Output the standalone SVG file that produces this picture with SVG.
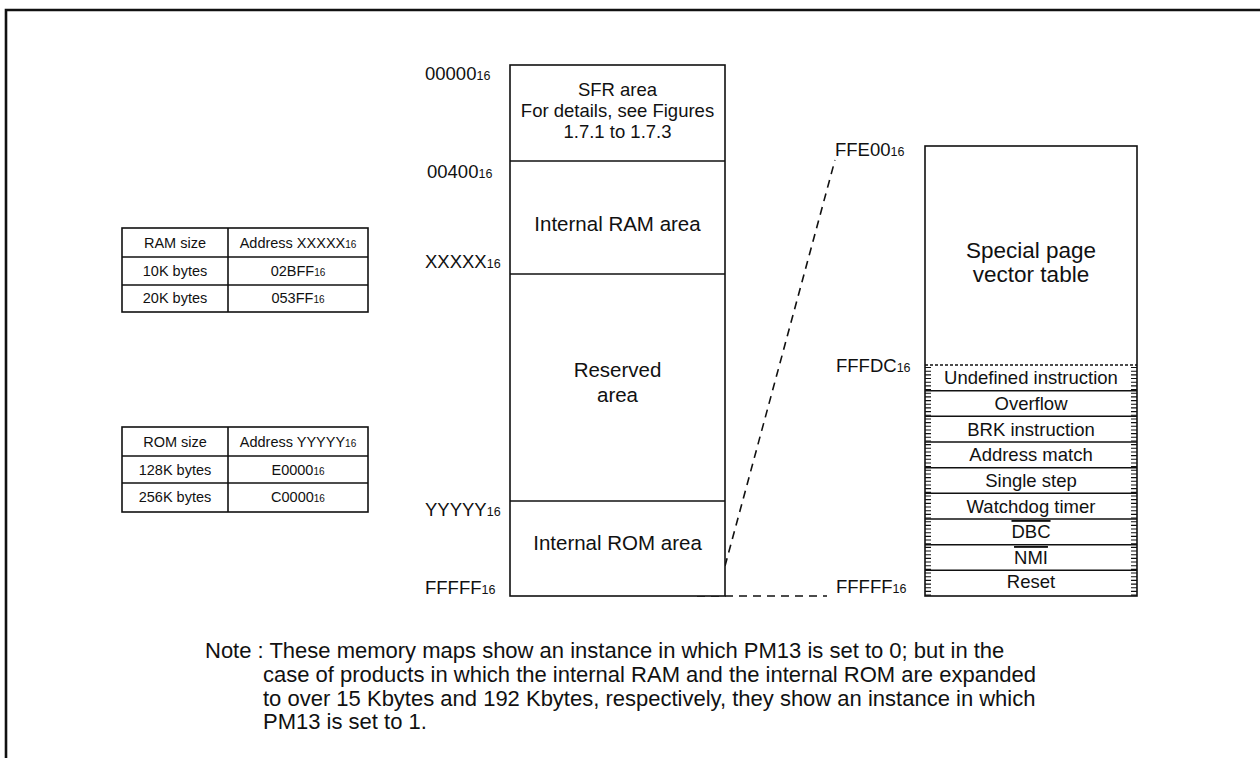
<svg xmlns="http://www.w3.org/2000/svg" width="1260" height="758" viewBox="0 0 1260 758">
<style>
text{font-family:"Liberation Sans",Arial,sans-serif;fill:#111}
.lbl{font-size:18.5px}
.sub{font-size:12.5px}
.tb{font-size:14.5px;text-anchor:middle}
.tsub{font-size:10px}
.area{font-size:20.5px;text-anchor:middle}
.sfr{font-size:18.5px;text-anchor:middle}
.vec{font-size:18.5px;text-anchor:middle}
.note{font-size:22px}
.box{fill:#fff;stroke:#111;stroke-width:1.6}
.ln{stroke:#111;stroke-width:1.6;fill:none}
.dash{stroke:#111;stroke-width:1.6;fill:none;stroke-dasharray:8 6}
.tick{stroke:#111;stroke-width:6;fill:none;stroke-dasharray:1.1 2.57}
</style>
<rect width="1260" height="758" fill="#fff"/>
<path d="M6 760 V10 H1262" fill="none" stroke="#111" stroke-width="2.6"/>

<g id="connectors">
<line class="dash" x1="725" y1="566" x2="835" y2="160"/>
<line class="dash" x1="697" y1="596" x2="827" y2="596"/>
</g>

<g id="ram-table">
<rect class="box" x="122" y="228" width="246" height="84"/>
<line class="ln" x1="228" y1="228" x2="228" y2="312"/>
<line class="ln" x1="122" y1="257" x2="368" y2="257"/>
<line class="ln" x1="122" y1="285" x2="368" y2="285"/>
<text class="tb" x="175" y="248">RAM size</text>
<text class="tb" x="298" y="248">Address XXXXX<tspan class="tsub">16</tspan></text>
<text class="tb" x="175" y="276">10K bytes</text>
<text class="tb" x="298" y="276">02BFF<tspan class="tsub">16</tspan></text>
<text class="tb" x="175" y="303">20K bytes</text>
<text class="tb" x="298" y="303">053FF<tspan class="tsub">16</tspan></text>
</g>

<g id="rom-table">
<rect class="box" x="122" y="427" width="246" height="85"/>
<line class="ln" x1="228" y1="427" x2="228" y2="512"/>
<line class="ln" x1="122" y1="456" x2="368" y2="456"/>
<line class="ln" x1="122" y1="483" x2="368" y2="483"/>
<text class="tb" x="175" y="447">ROM size</text>
<text class="tb" x="298" y="447">Address YYYYY<tspan class="tsub">16</tspan></text>
<text class="tb" x="175" y="475">128K bytes</text>
<text class="tb" x="298" y="475">E0000<tspan class="tsub">16</tspan></text>
<text class="tb" x="175" y="502">256K bytes</text>
<text class="tb" x="298" y="502">C0000<tspan class="tsub">16</tspan></text>
</g>

<g id="memory-map">
<rect class="box" x="510" y="65" width="215" height="531"/>
<line class="ln" x1="510" y1="161" x2="725" y2="161"/>
<line class="ln" x1="510" y1="274" x2="725" y2="274"/>
<line class="ln" x1="510" y1="501" x2="725" y2="501"/>
</g>

<g id="sfr-area">
<text class="sfr" x="617.5" y="96">SFR area</text>
<text class="sfr" x="617.5" y="117">For details, see Figures</text>
<text class="sfr" x="617.5" y="138">1.7.1 to 1.7.3</text>
</g>
<g id="ram-area"><text class="area" x="617.5" y="231">Internal RAM area</text></g>
<g id="reserved-area">
<text class="area" x="617.5" y="377">Reserved</text>
<text class="area" x="617.5" y="402">area</text>
</g>
<g id="rom-area"><text class="area" x="617.5" y="550">Internal ROM area</text></g>

<g id="left-addresses">
<text class="lbl" x="425" y="80">00000<tspan class="sub">16</tspan></text>
<text class="lbl" x="427" y="178">00400<tspan class="sub">16</tspan></text>
<text class="lbl" x="425" y="268">XXXXX<tspan class="sub">16</tspan></text>
<text class="lbl" x="425" y="516">YYYYY<tspan class="sub">16</tspan></text>
<text class="lbl" x="425" y="594">FFFFF<tspan class="sub">16</tspan></text>
</g>

<g id="vector-table">
<rect class="box" x="925" y="146" width="212" height="450"/>
<line class="ln" x1="925" y1="365" x2="1137" y2="365" stroke-width="1.2" stroke-dasharray="3 2"/>
<line class="tick" x1="928" y1="367" x2="928" y2="596"/>
<line class="tick" x1="1134" y1="367" x2="1134" y2="596"/>
<line class="ln" x1="925" y1="390.7" x2="1137" y2="390.7"/>
<line class="ln" x1="925" y1="416.3" x2="1137" y2="416.3"/>
<line class="ln" x1="925" y1="442" x2="1137" y2="442"/>
<line class="ln" x1="925" y1="467.7" x2="1137" y2="467.7"/>
<line class="ln" x1="925" y1="493.3" x2="1137" y2="493.3"/>
<line class="ln" x1="925" y1="519" x2="1137" y2="519"/>
<line class="ln" x1="925" y1="544.7" x2="1137" y2="544.7"/>
<line class="ln" x1="925" y1="570.3" x2="1137" y2="570.3"/>
<text x="1031" y="258" style="font-size:22.5px;text-anchor:middle">Special page</text>
<text x="1031" y="282" style="font-size:22.5px;text-anchor:middle">vector table</text>
<text class="vec" x="1031" y="384">Undefined instruction</text>
<text class="vec" x="1031" y="410">Overflow</text>
<text class="vec" x="1031" y="435.5">BRK instruction</text>
<text class="vec" x="1031" y="461">Address match</text>
<text class="vec" x="1031" y="487">Single step</text>
<text class="vec" x="1031" y="512.5">Watchdog timer</text>
<text class="vec" x="1031" y="538" text-decoration="overline">DBC</text>
<text class="vec" x="1031" y="564" text-decoration="overline">NMI</text>
<text class="vec" x="1031" y="588">Reset</text>
</g>

<g id="right-addresses">
<text class="lbl" x="835" y="156">FFE00<tspan class="sub">16</tspan></text>
<text class="lbl" x="836" y="372">FFFDC<tspan class="sub">16</tspan></text>
<text class="lbl" x="836" y="593">FFFFF<tspan class="sub">16</tspan></text>
</g>

<g id="note">
<text class="note" x="205" y="658">Note : These memory maps show an instance in which PM13 is set to 0; but in the</text>
<text class="note" x="263" y="682">case of products in which the internal RAM and the internal ROM are expanded</text>
<text class="note" x="263" y="706">to over 15 Kbytes and 192 Kbytes, respectively, they show an instance in which</text>
<text class="note" x="263" y="729">PM13 is set to 1.</text>
</g>
</svg>
